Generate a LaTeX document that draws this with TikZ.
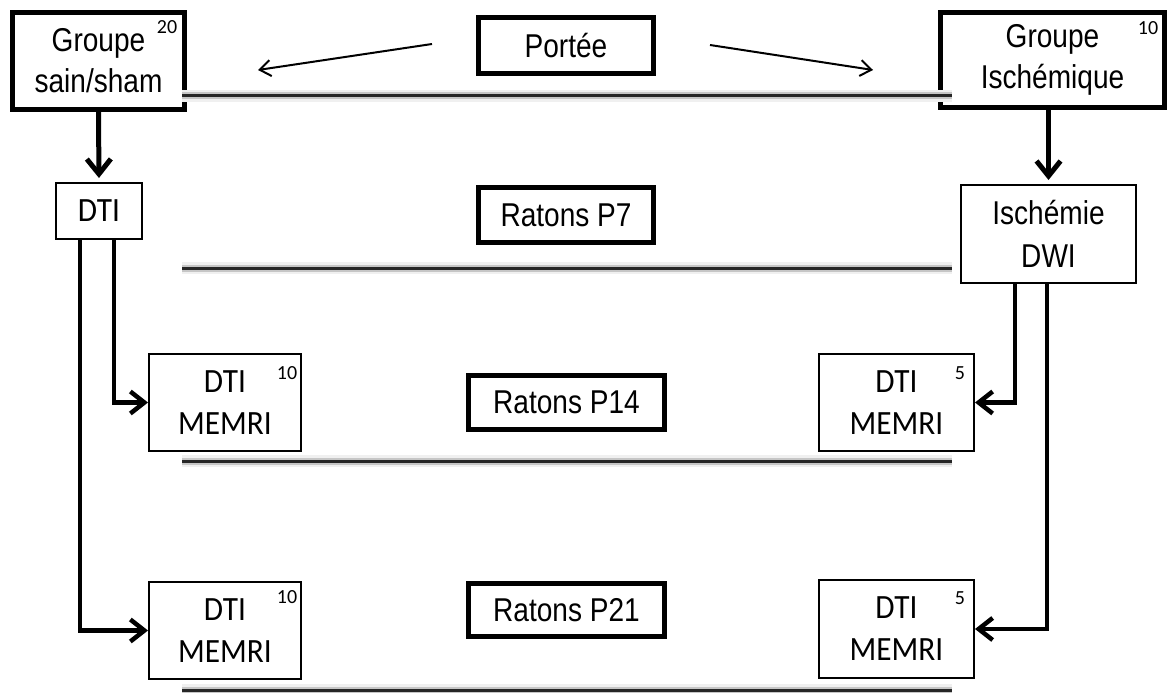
\documentclass[tikz,border=0pt]{standalone}
\usepackage{fontspec}
\setmainfont{Liberation Sans}[FakeStretch=0.85]
\newfontfamily\calfont{Carlito}[FakeStretch=0.92]
\newfontfamily\numfont{Carlito}
\usetikzlibrary{arrows.meta}
\begin{document}
\begin{tikzpicture}[x=1pt,y=-1pt,
  thickbox/.style={draw, line width=5pt, inner sep=0pt, align=center,
    font=\fontsize{33}{41}\selectfont},
  thinbox/.style={draw, line width=2pt, inner sep=0pt, align=center,
    font=\calfont\fontsize{34}{42}\selectfont},
  arialthin/.style={thinbox, font=\fontsize{33}{43}\selectfont},
  numlab/.style={inner sep=0pt, font=\numfont\fontsize{20}{22}\selectfont},
  conn/.style={line width=4.5pt, -{Straight Barb[length=14pt,width=22pt]}},
  downconn/.style={line width=5pt, -{Straight Barb[length=15pt,width=24pt]}, shorten >=4pt},
  thinarrow/.style={line width=2pt, -{Straight Barb[length=11pt,width=16pt]}},
  sep1/.style={line width=12pt, gray!12},
  sep2/.style={line width=7pt, gray!45},
  sep3/.style={line width=3pt, black!85}
]
\useasboundingbox (0,0) rectangle (1168,693);

% top row
\node[thickbox, minimum width=172pt, minimum height=97pt] (gs) at (98.5,61) {Groupe\\sain/sham};
\node[thickbox, minimum width=224pt, minimum height=95pt] (gi) at (1052.5,60) {Groupe\\Ischémique};
\node[thickbox, minimum width=175pt, minimum height=56pt] (portee) at (566,45.5) {Portée};
\node[numlab] (n20) at (167,27) {20};
\node[numlab] (n10gi) at (1148,28) {10};

% middle labels
\node[thickbox, minimum width=175pt, minimum height=55pt] (p7) at (566,215) {Ratons P7};
\node[thickbox, minimum width=196pt, minimum height=54pt] (p14) at (566.5,402.5) {Ratons P14};
\node[thickbox, minimum width=196pt, minimum height=53pt] (p21) at (566.5,610) {Ratons P21};

% left column
\node[thinbox, minimum width=86pt, minimum height=56pt] (dti) at (99,211) {DTI};
\node[thinbox, minimum width=152pt, minimum height=97pt] (m14l) at (225,402.5) {DTI\\MEMRI};
\node[thinbox, minimum width=152pt, minimum height=97pt] (m21l) at (225,630.5) {DTI\\MEMRI};
\node[numlab] (n10a) at (287,373) {10};
\node[numlab] (n10b) at (287,597) {10};

% right column
\node[arialthin, minimum width=175pt, minimum height=98pt] (isch) at (1048.5,234) {Ischémie\\DWI};
\node[thinbox, minimum width=155pt, minimum height=97pt] (m14r) at (896.5,402.5) {DTI\\MEMRI};
\node[thinbox, minimum width=155pt, minimum height=98pt] (m21r) at (896.5,629) {DTI\\MEMRI};
\node[numlab] (n5a) at (960,373) {5};
\node[numlab] (n5b) at (960,598) {5};

% Portee arrows
\coordinate (la) at (432,44);
\coordinate (lb) at (258,70);
\coordinate (ra) at (710,45);
\coordinate (rb) at (873,70);
\draw[thinarrow] (la) -- (lb);
\draw[thinarrow] (ra) -- (rb);

% down arrows
\draw[downconn] (gs.south) -- (dti.north);
\draw[downconn] (isch.north |- gi.south) -- (isch.north);

% branch connectors
\draw[conn] ([xshift=15pt]dti.south) |- (m14l.west);
\draw[conn] ([xshift=-19pt]dti.south) |- (m21l.west);
\draw[conn] ([xshift=-33.5pt]isch.south) |- (m14r.east);
\draw[conn] ([xshift=-1.5pt]isch.south) |- (m21r.east);

% separator lines
\foreach \yy/\nm in {96/a,268/b,461/c,690/d} {
  \coordinate (s\nm1) at (182,\yy);
  \coordinate (s\nm2) at (952,\yy);
  \draw[sep1] (s\nm1) -- (s\nm2);
  \draw[sep2] (s\nm1) -- (s\nm2);
  \draw[sep3] (s\nm1) -- (s\nm2);
}
\end{tikzpicture}
\end{document}
